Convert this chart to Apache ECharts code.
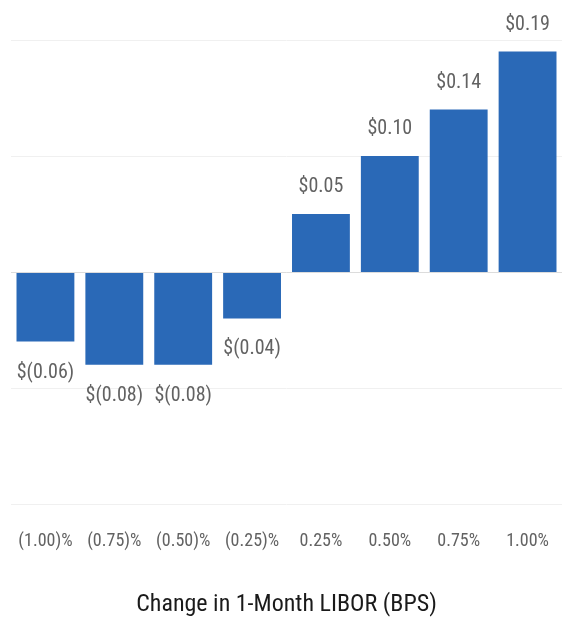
<!DOCTYPE html>
<html>
<head>
<meta charset="utf-8">
<script src="https://cdn.jsdelivr.net/npm/echarts@6/dist/echarts.min.js"></script>
<style>
  html, body { margin: 0; padding: 0; background: #ffffff; }
  #chart { width: 562px; height: 622px; }
</style>
</head>
<body>
<div id="chart"></div>
<script>
// LIBOR rate shocks and the resulting per-share impact
const rateChanges = ['(1.00)%', '(0.75)%', '(0.50)%', '(0.25)%', '0.25%', '0.50%', '0.75%', '1.00%'];
const epsImpact = [-0.06, -0.08, -0.08, -0.04, 0.05, 0.10, 0.14, 0.19];
const axisTitle = 'Change in 1-Month LIBOR (BPS)';

const FONT = '"Roboto Condensed", "Open Sans Condensed", sans-serif';

function fmtDollar(v) {
  const s = Math.abs(v).toFixed(2);
  return v < 0 ? '$(' + s + ')' : '$' + s;
}

const chart = echarts.init(document.getElementById('chart'));
chart.setOption({
  animation: false,
  grid: { left: 11, right: 0, top: 40, bottom: 118, containLabel: false, outerBoundsMode: 'none' },
  xAxis: {
    type: 'category',
    data: rateChanges,
    position: 'bottom',
    axisLine: { show: false, onZero: false },
    axisTick: { show: false },
    axisLabel: { color: '#626262', fontFamily: FONT, fontSize: 18, margin: 28, interval: 0 },
    name: axisTitle,
    nameLocation: 'middle',
    nameGap: 89,
    nameTextStyle: { color: '#1a1a1a', fontFamily: FONT, fontSize: 24 }
  },
  yAxis: {
    type: 'value',
    min: -0.2,
    max: 0.2,
    interval: 0.1,
    axisLabel: { show: false },
    axisLine: { show: false },
    axisTick: { show: false },
    splitLine: { lineStyle: { color: '#f0f0f0', width: 1 } }
  },
  series: [{
    type: 'bar',
    barCategoryGap: '16%',
    itemStyle: { color: '#2a69b7' },
    data: epsImpact.map(v => ({
      value: v,
      label: v < 0 ? { position: 'bottom', distance: 21 } : { position: 'top', distance: 17 }
    })),
    label: {
      show: true,
      color: '#626262',
      fontFamily: FONT,
      fontSize: 20,
      formatter: p => fmtDollar(p.value)
    },
    markLine: {
      silent: true,
      symbol: 'none',
      label: { show: false },
      lineStyle: { color: '#dcdcdc', type: 'solid', width: 1 },
      data: [{ yAxis: 0 }]
    }
  }]
});
</script>
</body>
</html>
